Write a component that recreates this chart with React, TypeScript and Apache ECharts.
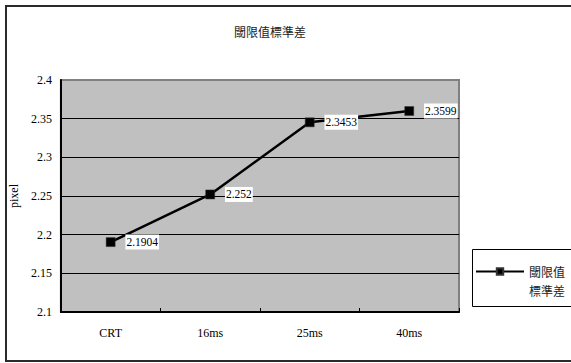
import React, { useEffect, useRef } from "react";
import * as echarts from "echarts";

const categories = ["CRT", "16ms", "25ms", "40ms"];
const seriesName = "閾限值標準差";
const legendLines = ["閾限值", "標準差"];
const values = [2.1904, 2.252, 2.3453, 2.3599];
const yTicks = { min: 2.1, max: 2.4, interval: 0.05 };

const SERIF = "Liberation Serif";
const CJK = "Noto Sans CJK TC";

export default function App() {
  const ref = useRef<HTMLDivElement>(null);
  useEffect(() => {
    document.body.style.margin = "0";
    const chart = echarts.init(ref.current!, null, { renderer: "svg" });
    chart.setOption({
      animation: false,
      backgroundColor: "#fff",
      title: {
        text: seriesName,
        left: 265,
        textAlign: "center",
        top: 20,
        textStyle: { fontFamily: CJK, fontSize: 12, fontWeight: "normal", color: "#222" },
      },
      graphic: [
        {
          type: "rect",
          z: -10,
          shape: { x: 6, y: 6, width: 620, height: 355 },
          style: { fill: "#fff", stroke: "#2a2a2a", lineWidth: 2 },
          silent: true,
        },
        {
          type: "rect",
          z: -5,
          shape: { x: 472.5, y: 249.5, width: 200, height: 57 },
          style: { fill: "#fff", stroke: "#000", lineWidth: 1 },
          silent: true,
        },
      ],
      legend: {
        data: [seriesName],
        left: 470,
        top: 238,
        padding: [5, 5, 5, 5],
        itemWidth: 48,
        itemHeight: 8,
        formatter: () => "\n" + legendLines.join("\n"),
        textStyle: {
          fontFamily: CJK,
          fontSize: 12,
          color: "#222",
          lineHeight: 19,
        },
      },
      grid: {
        left: 56,
        top: 80,
        right: 112,
        bottom: 51,
        show: true,
        backgroundColor: "#C0C0C0",
        borderColor: "#808080",
        borderWidth: 2,
      },
      xAxis: {
        type: "category",
        data: categories,
        boundaryGap: true,
        axisLine: { lineStyle: { color: "#000", width: 2 } },
        axisTick: { show: true, inside: true, length: 4, lineStyle: { color: "#000" } },
        axisLabel: { fontFamily: SERIF, fontSize: 12, color: "#000", margin: 15 },
        splitLine: { show: false },
      },
      yAxis: {
        type: "value",
        min: yTicks.min,
        max: yTicks.max,
        interval: yTicks.interval,
        name: "pixel",
        nameLocation: "middle",
        nameRotate: 90,
        nameGap: 37,
        nameTextStyle: { fontFamily: SERIF, fontSize: 12, color: "#000" },
        axisLine: { show: true, lineStyle: { color: "#000", width: 2 } },
        axisTick: { show: false },
        axisLabel: {
          fontFamily: SERIF,
          fontSize: 12,
          color: "#000",
          margin: 9,
          formatter: (v: number) => String(+v.toFixed(2)),
        },
        splitLine: {
          show: true,
          showMinLine: false,
          showMaxLine: false,
          lineStyle: { color: "#000", width: 1 },
        },
      },
      series: [
        {
          name: seriesName,
          type: "line",
          data: values,
          symbol: "rect",
          symbolSize: 9,
          lineStyle: { color: "#000", width: 2.5 },
          itemStyle: { color: "#000", borderColor: "#333", borderWidth: 0.5 },
          label: {
            show: true,
            position: "right",
            distance: 10,
            fontFamily: SERIF,
            fontSize: 11.5,
            color: "#000",
            backgroundColor: "#fff",
            padding: [2, 1, 1, 1],
            formatter: (p: any) => String(p.value),
          },
        },
      ],
    });
    return () => chart.dispose();
  }, []);
  return <div ref={ref} style={{ width: 571, height: 363 }} />;
}
